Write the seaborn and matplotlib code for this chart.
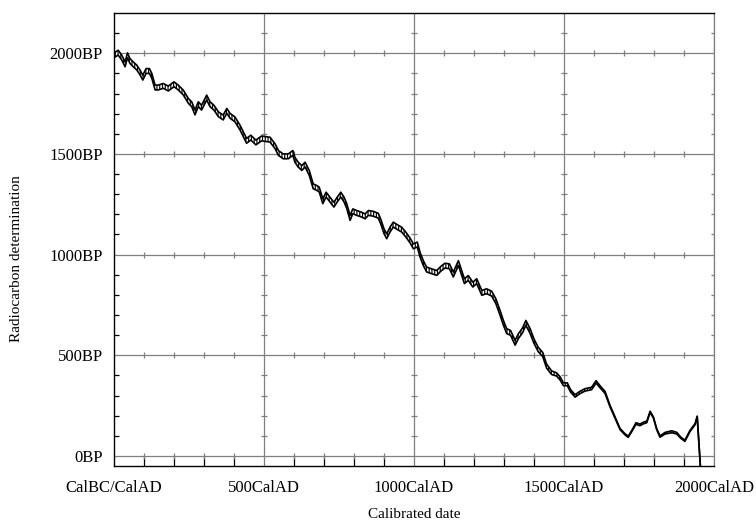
import matplotlib
matplotlib.use("Agg")
import matplotlib.pyplot as plt
import seaborn as sns
import numpy as np
import pandas as pd

# ---- data (calendar year AD, radiocarbon BP) ----
cal_year = [0, 14, 26, 37, 45, 53, 64, 76, 87, 96, 107, 118, 126, 137, 148, 164, 181, 200, 214, 231,
            248, 259, 270, 281, 292, 309, 320, 333, 348, 364, 376, 387, 403, 420, 431, 442, 456, 473, 492, 509,
            520, 537, 548, 564, 581, 596, 603, 614, 626, 637, 651, 664, 676, 684, 696, 707, 720, 733, 744, 756,
            767, 776, 787, 796, 809, 826, 837, 848, 864, 881, 889, 900, 909, 920, 931, 944, 959, 973, 987,
            998, 1011, 1020, 1031, 1042, 1059, 1076, 1089, 1103, 1118, 1131, 1148, 1159, 1168, 1181, 1196, 1209,
            1226, 1242, 1259, 1273, 1287, 1298, 1309, 1322, 1337, 1348, 1362, 1373, 1387, 1400, 1414, 1429, 1442,
            1459, 1475, 1487,
            1498, 1511, 1522, 1537, 1553, 1570, 1592, 1607, 1620, 1637, 1653, 1670, 1687, 1703, 1714, 1726, 1740,
            1753, 1764, 1776, 1787, 1798, 1809, 1820, 1837, 1859, 1876, 1889, 1903, 1920, 1937, 1944, 1955]

bp_mid = [1990, 2003, 1978, 1945, 1990, 1962, 1945, 1929, 1904, 1879, 1912, 1912, 1888, 1830, 1830, 1838, 1825, 1846, 1830, 1805,
          1763, 1747, 1706, 1747, 1730, 1780, 1747, 1730, 1697, 1681, 1714, 1689, 1672, 1631, 1598, 1565, 1581, 1557, 1577, 1573,
          1571, 1538, 1505, 1488, 1488, 1505, 1471, 1447, 1430, 1447, 1405, 1339, 1331, 1323, 1265, 1298, 1273, 1248, 1273, 1298,
          1273, 1240, 1182, 1215, 1207, 1198, 1190, 1207, 1203, 1193, 1165, 1116, 1091, 1124, 1149, 1137, 1124, 1099, 1070,
          1041, 1050, 1000, 958, 926, 917, 909, 929, 945, 942, 901, 958, 909, 868, 884, 851, 868,
          810, 818, 806, 768, 710, 661, 620, 611, 562, 595, 624, 661, 620, 570, 529, 504, 446,
          413, 405, 385,
          356, 356, 323, 298, 315, 328, 335, 368, 344, 315, 249, 191, 133, 108, 95, 124, 161,
          154, 163, 169, 219, 191, 133, 96, 113, 120, 113, 91, 75, 124, 158, 196, -60]

bp_half = [12, 12, 12, 12, 12, 12, 12, 12, 12, 12, 12, 12, 12, 12, 12, 12, 12, 12, 12, 12,
           12, 12, 12, 12, 12, 12, 12, 12, 12, 12, 12, 12, 12, 12, 12, 12, 12, 12, 12, 12,
           12, 12, 12, 12, 12, 12, 12, 12, 12, 12, 12, 12, 12, 12, 12, 12, 12, 12, 12, 12,
           12, 12, 12, 12, 12, 12, 12, 12, 12, 12, 12, 12, 12, 12, 12, 12, 12, 12, 12,
           12, 12, 12, 12, 12, 12, 12, 12, 12, 12, 12, 12, 12, 12, 12, 12, 12,
           12, 12, 12, 12, 12, 12, 12, 12, 12, 12, 12, 12, 12, 11, 11, 10, 10,
           9, 8, 8,
           7, 7, 6, 6, 6, 6, 6, 6, 5, 5, 4, 3, 3, 3, 3, 3, 4,
           4, 4, 4, 3, 3, 3, 3, 4, 5, 4, 3, 3, 3, 3, 2, 2]

x_major = [0, 500, 1000, 1500, 2000]
x_labels = ["CalBC/CalAD", "500CalAD", "1000CalAD", "1500CalAD", "2000CalAD"]
y_major = [0, 500, 1000, 1500, 2000]
y_labels = ["0BP", "500BP", "1000BP", "1500BP", "2000BP"]
x_minor = [100, 200, 300, 400, 600, 700, 800, 900, 1100, 1200, 1300, 1400, 1600, 1700, 1800, 1900]
y_minor = [100, 200, 300, 400, 600, 700, 800, 900, 1100, 1200, 1300, 1400, 1600, 1700, 1800, 1900, 2100]

# ---- style ----
sns.set_theme(style="white")
plt.rcParams["font.family"] = ["Liberation Serif", "DejaVu Serif"]
plt.rcParams["hatch.linewidth"] = 0.85

df = pd.DataFrame({"year": cal_year, "bp": bp_mid, "half": bp_half})
df["upper"] = df["bp"] + df["half"]
df["lower"] = df["bp"] - df["half"]

fig = plt.figure(figsize=(7.56, 5.26), dpi=100)
ax = fig.add_axes([114 / 756, 1 - 466 / 526, 600 / 756, 453 / 526])

grid_c = "#7f7f7f"
ax.set_xlim(0, 2000)
ax.set_ylim(-50, 2200)

# grid lines
for xv in x_major[1:]:
    ax.axvline(xv, color=grid_c, lw=0.9, zorder=1)
for yv in y_major:
    ax.axhline(yv, color=grid_c, lw=0.9, zorder=1)

# crossing ticks on grid lines
gx = [xv for yv in y_major for xv in x_minor]
gy = [yv for yv in y_major for xv in x_minor]
ax.plot(gx, gy, ls="none", marker="|", ms=5, mew=0.9, color=grid_c, zorder=1)
vx = [xv for xv in x_major[1:] for yv in y_minor]
vy = [yv for xv in x_major[1:] for yv in y_minor]
ax.plot(vx, vy, ls="none", marker="_", ms=5, mew=0.9, color=grid_c, zorder=1)

# calibration band with vertical hatching
ax.fill_between(df["year"], df["lower"], df["upper"], facecolor="white",
                edgecolor="black", hatch="|" * 6, linewidth=0, zorder=2)
sns.lineplot(data=df, x="year", y="upper", estimator=None, sort=False,
             color="black", lw=1.2, ax=ax, zorder=3)
sns.lineplot(data=df, x="year", y="lower", estimator=None, sort=False,
             color="black", lw=1.2, ax=ax, zorder=3)

# ticks
ax.set_xticks(x_major)
ax.set_xticklabels(x_labels)
ax.set_yticks(y_major)
ax.set_yticklabels(y_labels)
ax.set_xticks(x_minor, minor=True)
ax.set_yticks(y_minor, minor=True)
ax.tick_params(axis="both", which="major", length=0, labelsize=12, colors="black")
ax.tick_params(axis="x", which="major", pad=10)
ax.tick_params(axis="y", which="major", pad=8)
ax.tick_params(axis="x", which="minor", direction="in", length=7, width=0.9,
               color="black", bottom=True, top=False)
ax.tick_params(axis="y", which="minor", direction="in", length=3.5, width=0.9,
               color="black", left=True, right=False)

for side in ["left", "bottom", "top"]:
    ax.spines[side].set_color("black")
    ax.spines[side].set_linewidth(1.0)
ax.spines["right"].set_color(grid_c)
ax.spines["right"].set_linewidth(0.9)

ax.set_xlabel("Calibrated date", fontsize=11, color="black")
ax.set_ylabel("Radiocarbon determination", fontsize=11, color="black")
ax.xaxis.set_label_coords(0.5, -0.093)
ax.yaxis.set_label_coords(-0.152, 0.457)

fig.savefig("out.png", dpi=100)
